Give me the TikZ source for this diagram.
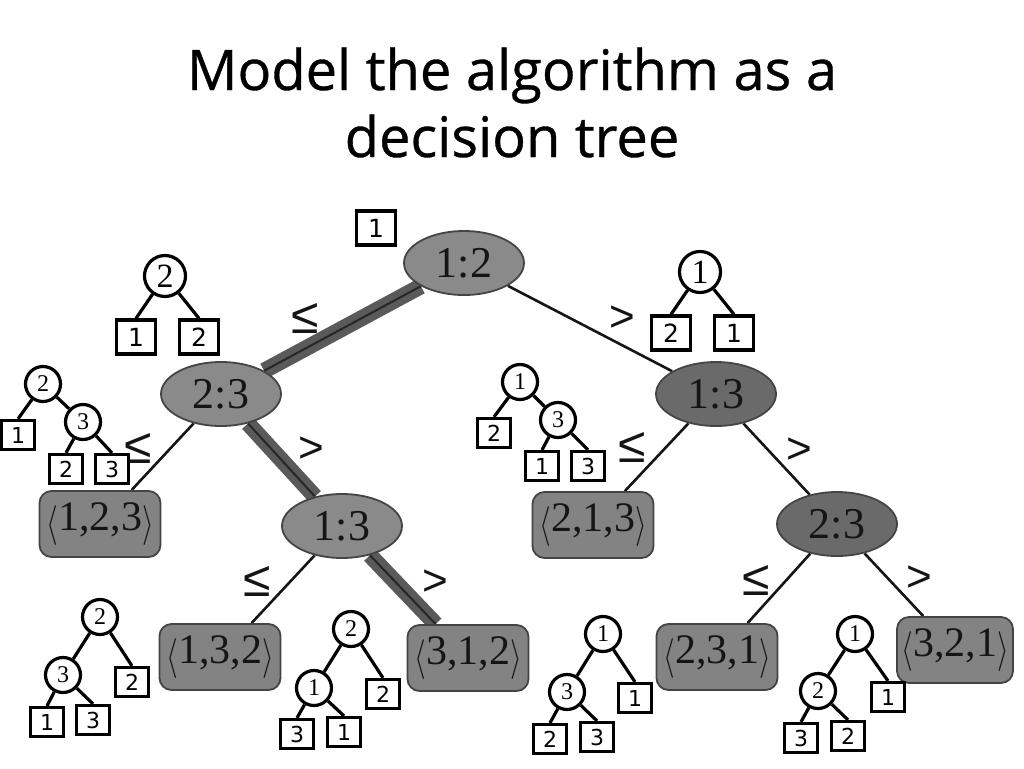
\documentclass[tikz,border=0pt]{standalone}
\usepackage{graphicx}
\usepackage{fontspec}
\setmainfont{Liberation Serif}
\newfontfamily\boxfont{DejaVu Sans}
\newfontfamily\titlefont[FakeBold=0.6]{Open Sans}
\newfontfamily\relfont{Liberation Sans}
\usetikzlibrary{shapes.geometric,backgrounds}
\definecolor{gA}{HTML}{8A8A8A}
\definecolor{gB}{HTML}{6A6A6A}
\definecolor{gL}{HTML}{838383}
\definecolor{band}{HTML}{5A5A5A}
\definecolor{ink}{HTML}{151515}
\newcommand{\perm}[1]{\raisebox{-0.1em}{\scalebox{1.2}[1.6]{$\langle$}}#1\raisebox{-0.1em}{\scalebox{1.2}[1.6]{$\rangle$}}}
\begin{document}
\begin{tikzpicture}[x=1pt,y=-1pt,
 cmp/.style={ellipse,draw=ink!80,line width=1.8pt,fill=gA,minimum width=120pt,minimum height=64pt,inner sep=0pt,text=ink,font=\fontsize{44}{44}\selectfont},
 cmpd/.style={cmp,fill=gB},
 leaf/.style={rectangle,rounded corners=12pt,draw=ink!80,line width=1.8pt,fill=gL,minimum width=121pt,minimum height=66pt,inner sep=0pt,text=ink,font=\fontsize{42}{42}\selectfont},
 scirc/.style={circle,draw,line width=3.2pt,fill=white,minimum size=35pt,inner sep=0pt,font=\fontsize{24}{24}\selectfont},
 bcirc/.style={scirc,minimum size=41pt,font=\fontsize{34}{34}\selectfont},
 sbox/.style={rectangle,draw,line width=3.2pt,fill=white,minimum width=33pt,minimum height=29pt,inner sep=0pt,font=\boxfont\fontsize{22}{22}\selectfont},
 bbox/.style={sbox,minimum width=39pt,minimum height=34pt,font=\boxfont\fontsize{25}{25}\selectfont},
 thinedge/.style={draw=ink,line width=2.6pt},
 hotband/.style={draw=band,line width=16pt},
 hotcore/.style={draw=black!85,line width=2pt},
 tline/.style={draw=black,line width=3.2pt},
 rel/.style={font=\relfont\fontsize{44}{44}\selectfont,inner sep=0pt,text=ink},
 rle/.style={font=\relfont\fontsize{50}{50}\selectfont,inner sep=0pt,text=ink},
 ttl/.style={anchor=base,font=\titlefont\fontsize{56}{56}\selectfont,inner sep=0pt}]
\useasboundingbox (0,0) rectangle (1024,768);

% title
\node[ttl] (title1) at (512,90) {Model the algorithm as a};
\node[ttl] (title2) at (512,157) {decision tree};

% main tree
\node[cmp]  (r)   at (464,263) {1:2};
\node[cmp]  (l)   at (221,394) {2:3};
\node[cmpd] (rr)  at (716,394) {1:3};
\node[cmp]  (lr)  at (342,526) {1:3};
\node[cmpd] (rrr) at (837,524) {2:3};
\node[leaf] (p123) at (100,524) {\perm{1,2,3}};
\node[leaf] (p213) at (593,525) {\perm{2,1,3}};
\node[leaf] (p132) at (220,657) {\perm{1,3,2}};
\node[leaf] (p312) at (468,658) {\perm{3,1,2}};
\node[leaf] (p231) at (717,657) {\perm{2,3,1}};
\node[leaf,minimum width=116pt] (p321) at (955,650) {\perm{3,2,1}};

\begin{scope}[on background layer]
\draw[hotband] (r) -- (l);
\draw[hotcore] (r) -- (l);
\draw[hotband] (l) -- (lr);
\draw[hotcore] (l) -- (lr);
\draw[hotband] (lr) -- (p312);
\draw[hotcore] (lr) -- (p312);
\draw[thinedge] (r) -- (rr);
\draw[thinedge] (l) -- (p123);
\draw[thinedge] (rr) -- (p213);
\draw[thinedge] (rr) -- (rrr);
\draw[thinedge] (lr) -- (p132);
\draw[thinedge] (rrr) -- (p231);
\draw[thinedge] (rrr) -- (p321);
\end{scope}

% edge labels
\node[rle] (e1) at (305,318) {≤};
\node[rel] (e2) at (622,319) {>};
\node[rle] (e3) at (138,448) {≤};
\node[rel] (e4) at (311,450) {>};
\node[rle] (e5) at (632,447) {≤};
\node[rel] (e6) at (799,451) {>};
\node[rle] (e7) at (257,581) {≤};
\node[rel] (e8) at (435,583) {>};
\node[rle] (e9) at (756,580) {≤};
\node[rel] (e10) at (919,579) {>};

% small trees
\node[bbox] (t1) at (376,228) {1};

\node[bcirc] (t2c) at (165,276) {2};
\node[bbox] (t2a) at (136,337) {1};
\node[bbox] (t2b) at (199,337) {2};
\draw[tline] (t2c) -- (t2a.north);
\draw[tline] (t2c) -- (t2b.north);

\node[bcirc] (t5c) at (700,272) {1};
\node[bbox] (t5a) at (671,333) {2};
\node[bbox] (t5b) at (734,333) {1};
\draw[tline] (t5c) -- (t5a.north);
\draw[tline] (t5c) -- (t5b.north);

\node[scirc] (t3c) at (43,384) {2};
\node[sbox] (t3a) at (18,435) {1};
\node[scirc] (t3d) at (83,422) {3};
\node[sbox] (t3e) at (66,469) {2};
\node[sbox] (t3f) at (112,469) {3};
\draw[tline] (t3c) -- (t3a.north);
\draw[tline] (t3c) -- (t3d);
\draw[tline] (t3d) -- (t3e.north);
\draw[tline] (t3d) -- (t3f.north);

\node[scirc] (t4c) at (520,382) {1};
\node[sbox] (t4a) at (494,433) {2};
\node[scirc] (t4d) at (558,420) {3};
\node[sbox] (t4e) at (542,466) {1};
\node[sbox] (t4f) at (588,466) {3};
\draw[tline] (t4c) -- (t4a.north);
\draw[tline] (t4c) -- (t4d);
\draw[tline] (t4d) -- (t4e.north);
\draw[tline] (t4d) -- (t4f.north);

\node[scirc] (t6c) at (100,617) {2};
\node[scirc] (t6d) at (63,675) {3};
\node[sbox] (t6a) at (132,682) {2};
\node[sbox] (t6e) at (47,722) {1};
\node[sbox] (t6f) at (93,720) {3};
\draw[tline] (t6c) -- (t6d);
\draw[tline] (t6c) -- (t6a.north);
\draw[tline] (t6d) -- (t6e.north);
\draw[tline] (t6d) -- (t6f.north);

\node[scirc] (t7c) at (351,629) {2};
\node[scirc] (t7d) at (314,688) {1};
\node[sbox] (t7a) at (383,694) {2};
\node[sbox] (t7e) at (297,734) {3};
\node[sbox] (t7f) at (344,732) {1};
\draw[tline] (t7c) -- (t7d);
\draw[tline] (t7c) -- (t7a.north);
\draw[tline] (t7d) -- (t7e.north);
\draw[tline] (t7d) -- (t7f.north);

\node[scirc] (t8c) at (603,634) {1};
\node[scirc] (t8d) at (567,692) {3};
\node[sbox] (t8a) at (635,698) {1};
\node[sbox] (t8e) at (550,739) {2};
\node[sbox] (t8f) at (597,737) {3};
\draw[tline] (t8c) -- (t8d);
\draw[tline] (t8c) -- (t8a.north);
\draw[tline] (t8d) -- (t8e.north);
\draw[tline] (t8d) -- (t8f.north);

\node[scirc] (t9c) at (855,634) {1};
\node[scirc] (t9d) at (818,691) {2};
\node[sbox] (t9a) at (888,697) {1};
\node[sbox] (t9e) at (801,738) {3};
\node[sbox] (t9f) at (848,736) {2};
\draw[tline] (t9c) -- (t9d);
\draw[tline] (t9c) -- (t9a.north);
\draw[tline] (t9d) -- (t9e.north);
\draw[tline] (t9d) -- (t9f.north);
\end{tikzpicture}
\end{document}
